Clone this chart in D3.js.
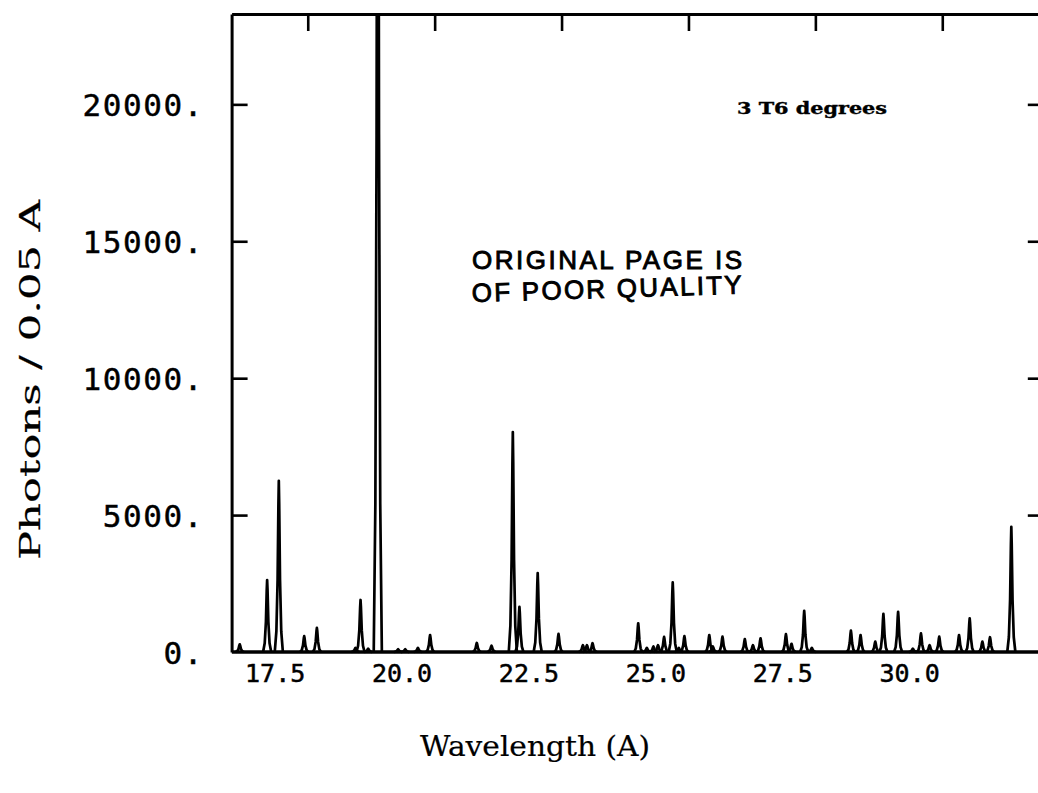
<!DOCTYPE html>
<html><head><meta charset="utf-8">
<script src="https://cdn.jsdelivr.net/npm/d3@7"></script>
<style>body{margin:0;background:#fff}svg{display:block}</style>
</head><body><svg id="c" width="1038" height="793"></svg>
<script>
// ---- data ----
const lineWavelengths = [16.16,16.70,16.93,17.43,17.68,18.44,18.54,18.69,18.88,19.28,19.42,19.67,19.91,
  20.83,21.12,21.54,21.67,22.03,22.44,22.92,23.00,23.11,24.01,24.18,24.31,24.40,24.52,24.69,24.81,24.92,
  25.41,25.48,25.67,26.11,26.27,26.42,26.92,27.03,27.28,27.43,28.20,28.39,28.68,28.84,29.13,29.42,29.58,
  29.75,29.94,30.33,30.54,30.79,30.94,31.36];
const lineHeights = [280,2630,6250,580,880,150,1900,120,45000,100,100,150,620,
  330,230,8030,1650,2880,660,250,250,320,1050,150,200,250,550,2540,150,580,
  620,200,560,470,250,500,650,300,1500,150,780,620,380,1390,1470,120,680,
  250,560,620,1230,380,540,4570];
const xTicks = [17.5,20.0,22.5,25.0,27.5,30.0];
const xTickLabels = ["17.5","20.0","22.5","25.0","27.5","30.0"];
const yTicks = [0,5000,10000,15000,20000];
const yTickLabels = ["0.","5000.","10000.","15000.","20000."];
const xDomain = [16,32];
const yDomain = [0,23300];
const xTitle = "Wavelength (A)";
const yTitle = "Photons / 0.05 A";
const note = "3 T6 degrees";
const stamp = ["ORIGINAL PAGE IS","OF POOR QUALITY"];
// line profile (relative offset in half-widths, relative height)
const profileOffsets = [-1,-0.6,-0.3,-0.1,0,0.1,0.3,0.6,1];
const profileShape   = [0,0.12,0.42,0.86,1,0.86,0.42,0.12,0];
const halfWidth = 0.08;

// ---- layout ----
const L=231.6, R=1043.8, T=14, B=652;
const svg = d3.select("#c");
const x = d3.scaleLinear().domain(xDomain).range([L,R]);
const y = d3.scaleLinear().domain(yDomain).range([B,T]);

svg.append("defs").append("clipPath").attr("id","pa")
  .append("rect").attr("x",L).attr("y",T).attr("width",R-L).attr("height",B-T+4);

const lineGen = d3.line().x(d=>x(d[0])).y(d=>y(d[1]));
const g = svg.append("g").attr("clip-path","url(#pa)");
lineWavelengths.forEach((w,i)=>{
  const pts = profileOffsets.map((o,k)=>[w+o*halfWidth, profileShape[k]*lineHeights[i]]);
  g.append("path").attr("d",lineGen(pts)).attr("fill","none")
    .attr("stroke","#000").attr("stroke-width",2.7).attr("stroke-linejoin","round");
});
// baseline
g.append("path").attr("d",lineGen([[xDomain[0],0],[xDomain[1],0]]))
  .attr("stroke","#000").attr("stroke-width",3.6).attr("fill","none");

// frame & ticks
const axTop = svg.append("g").attr("transform",`translate(0,${T})`)
  .call(d3.axisTop(x).tickValues(xTicks).tickSize(-17).tickSizeOuter(0).tickFormat(""));
const axLeft = svg.append("g").attr("transform",`translate(${L},0)`)
  .call(d3.axisLeft(y).tickValues(yTicks.slice(1)).tickSize(-16).tickSizeOuter(0).tickFormat(""));
const axRight = svg.append("g").attr("transform",`translate(${R},0)`)
  .call(d3.axisRight(y).tickValues(yTicks.slice(1)).tickSize(-16).tickSizeOuter(0).tickFormat(""));
[axTop,axLeft,axRight].forEach(a=>{
  a.select(".domain").attr("stroke","#000").attr("stroke-width",3);
  a.selectAll(".tick line").attr("stroke","#000").attr("stroke-width",2.6);
});

const ink = (sel,w) => sel.attr("fill","#000").attr("stroke","#000").attr("stroke-width",w);

// tick labels
const yl = svg.append("g").attr("transform",`translate(${L},0)`)
  .call(d3.axisLeft(y).tickValues(yTicks).tickFormat((d,i)=>yTickLabels[i]).tickSize(0).tickPadding(L-204));
yl.select(".domain").remove();
yl.selectAll("text").attr("font-family","'DejaVu Sans Mono', monospace").attr("font-size",31)
  .attr("letter-spacing",1.6).attr("dy","0.36em").call(ink,0.45);

const xl = svg.append("g").attr("transform",`translate(0,${B})`)
  .call(d3.axisBottom(x).tickValues(xTicks).tickFormat((d,i)=>xTickLabels[i]).tickSize(0).tickPadding(12));
xl.select(".domain").remove();
xl.selectAll("text").attr("font-family","'DejaVu Sans Mono', monospace").attr("font-size",25)
  .attr("text-anchor","end").attr("dx",-3).attr("dy","0.71em").call(ink,0.5);

// titles
svg.append("text").attr("x",420).attr("y",756).attr("textLength",230).attr("lengthAdjust","spacingAndGlyphs")
  .attr("font-family","'DejaVu Serif', serif").attr("font-size",27).text(xTitle).call(ink,0.2);
svg.append("text").attr("transform","translate(40,560) rotate(-90)")
  .attr("textLength",360).attr("lengthAdjust","spacingAndGlyphs")
  .attr("font-family","'DejaVu Serif', serif").attr("font-size",27).text(yTitle).call(ink,0.2);

svg.append("text").attr("x",737).attr("y",114).attr("textLength",150).attr("lengthAdjust","spacingAndGlyphs")
  .attr("font-family","'DejaVu Serif', serif").attr("font-weight","bold").attr("font-size",17).text(note).call(ink,0.4);

svg.append("text").attr("x",472).attr("y",269).attr("textLength",270).attr("lengthAdjust","spacing")
  .attr("font-family","'Liberation Sans', Arial, sans-serif").attr("font-size",26).text(stamp[0]).call(ink,0.9);
svg.append("text").attr("x",472).attr("y",302).attr("transform","rotate(-1.8,472,302)")
  .attr("textLength",270).attr("lengthAdjust","spacing")
  .attr("font-family","'Liberation Sans', Arial, sans-serif").attr("font-size",26).text(stamp[1]).call(ink,0.9);
</script></body></html>
